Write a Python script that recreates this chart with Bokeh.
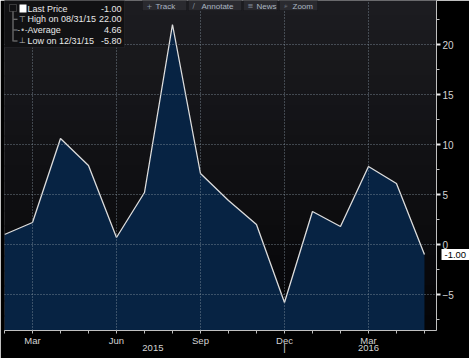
from bokeh.plotting import figure
from bokeh.models import Range1d, FixedTicker, Label, BoxAnnotation, LinearAxis
from bokeh.embed import file_html
from bokeh.resources import INLINE

# ---- data (monthly, Feb 2015 .. May 2016) ----
MONTHS = ["Feb 15", "Mar 15", "Apr 15", "May 15", "Jun 15", "Jul 15", "Aug 15", "Sep 15",
          "Oct 15", "Nov 15", "Dec 15", "Jan 16", "Feb 16", "Mar 16", "Apr 16", "May 16"]
MONTH_INDEX = list(range(len(MONTHS)))
PRICES = [1.0, 2.2, 10.6, 7.9, 0.7, 5.2, 22.0, 7.1, 4.4, 2.0, -5.8, 3.3, 1.8, 7.8, 6.1, -1.0]

X_TICKS = [1, 4, 5.3, 7, 10, 13]
X_TICK_LABELS = ["Mar", "Jun", "\n2015", "Sep", "Dec\n|", "Mar\n2016"]
Y_TICKS = [-5, 0, 5, 10, 15, 20]
Y_MINOR = [-7.5, -2.5, 2.5, 7.5, 12.5, 17.5, 22.5]
GRID_X = [1, 4, 7, 10, 13]

LEGEND_NAMES = ["Last Price", "High on 08/31/15", "Average", "Low on 12/31/15"]
LEGEND_VALUES = ["-1.00", "22.00", "4.66", "-5.80"]
LAST_PRICE_TEXT = "-1.00"
TOOL_BUTTONS = ["Track", "Annotate", "News", "Zoom"]
TOOL_ICONS = ["+", "\u2215", "\u2261", "\u2315"]

X_START, X_END = 0.0, 15.43
Y_START, Y_END = -8.6, 24.4

FONT = "Liberation Sans"
TXT = "#d4d4d4"

p = figure(width=469, height=358, x_range=Range1d(X_START, X_END), y_range=Range1d(Y_START, Y_END),
           output_backend="svg", toolbar_location=None, y_axis_location="right",
           min_border_left=4, min_border_top=0, min_border_right=32, min_border_bottom=28)
p.background_fill_color = "#0d0d10"
p.border_fill_color = "#000000"
p.outline_line_color = None

FRAME_H = 330
N_BANDS = 22
top_c = (0x1c, 0x1c, 0x20)
bot_c = (0x05, 0x05, 0x07)


def sbox(l, r, t, b, **kw):
    return BoxAnnotation(left=l, right=r, top=t, bottom=b,
                         left_units="screen", right_units="screen",
                         top_units="screen", bottom_units="screen", **kw)


for i in range(N_BANDS):
    t = i / (N_BANDS - 1)
    c = tuple(int(round(top_c[k] + (bot_c[k] - top_c[k]) * t)) for k in range(3))
    y_top = FRAME_H - i * FRAME_H / N_BANDS
    y_bot = FRAME_H - (i + 1) * FRAME_H / N_BANDS - 1
    p.add_layout(sbox(-5, 450, y_top, y_bot, fill_color="#%02x%02x%02x" % c, fill_alpha=1.0,
                      line_color=None, level="underlay"))

# area + line
p.varea(x=MONTH_INDEX, y1=Y_START, y2=PRICES, fill_color="#072343")
p.line(MONTH_INDEX, PRICES, line_color="#dcdcdc", line_width=1.3)

# x axis (months + years as second line)
xa = p.xaxis[0]
xa.ticker = FixedTicker(ticks=X_TICKS, minor_ticks=MONTH_INDEX)
xa.major_label_overrides = {t: l for t, l in zip(X_TICKS, X_TICK_LABELS)}
xa.axis_line_color = "#c0c0c0"
xa.major_tick_line_color = None
xa.minor_tick_line_color = "#c0c0c0"
xa.major_tick_out = 3
xa.major_tick_in = 0
xa.minor_tick_out = 3
xa.minor_tick_in = 0
xa.major_label_text_color = TXT
xa.major_label_text_font = FONT
xa.major_label_text_font_size = "9.5px"
xa.major_label_text_line_height = 0.7
xa.major_label_standoff = 1

# y axis (right)
ya = p.yaxis[0]
ya.ticker = FixedTicker(ticks=Y_TICKS, minor_ticks=Y_MINOR)
ya.axis_line_color = "#c0c0c0"
ya.major_tick_line_color = "#e8e8e8"
ya.minor_tick_line_color = "#c0c0c0"
ya.major_tick_out = 4
ya.major_tick_in = 0
ya.major_tick_line_width = 2
ya.minor_tick_out = 3
ya.minor_tick_in = 0
ya.major_label_text_color = TXT
ya.major_label_text_font = FONT
ya.major_label_text_font_size = "10px"
ya.major_label_standoff = 2

# last-price tag: second right axis; its wide white tick forms the tag box,
# and a negative standoff pulls its label back next to the first axis
tag = LinearAxis(ticker=FixedTicker(ticks=[PRICES[-1]], minor_ticks=[]),
                 major_label_overrides={PRICES[-1]: LAST_PRICE_TEXT})
tag.axis_line_color = None
tag.minor_tick_line_color = None
tag.major_tick_line_color = "#ffffff"
tag.major_tick_line_width = 11
tag.major_tick_line_cap = "butt"
tag.major_tick_in = 15
tag.major_tick_out = 14
tag.major_label_standoff = -26
tag.major_label_text_font = FONT
tag.major_label_text_font_size = "9.5px"
tag.major_label_text_color = "#000000"
p.add_layout(tag, "right")

# grids
for g, ticks in ((p.xgrid[0], GRID_X), (p.ygrid[0], Y_TICKS)):
    g.ticker = FixedTicker(ticks=ticks)
    g.grid_line_color = "#8896a4"
    g.grid_line_alpha = 0.8
    g.grid_line_dash = "1 2"
    g.level = "guide"

# legend box (top-left)
p.add_layout(sbox(-4, 120, FRAME_H, FRAME_H - 47, fill_color="#111113", fill_alpha=1.0,
                  line_color="#3a3a3e", line_width=1, level="overlay"))
p.add_layout(sbox(8, 9, FRAME_H - 10, FRAME_H - 41, fill_color="#8a8a8a", fill_alpha=1.0,
                  line_color=None, level="overlay"))
p.add_layout(sbox(5, 12, FRAME_H - 4, FRAME_H - 11, fill_color="#111113", fill_alpha=1.0,
                  line_color="#9a9a9a", line_width=1, level="overlay"))
p.add_layout(sbox(15, 22, FRAME_H - 4, FRAME_H - 12, fill_color="#ffffff", fill_alpha=1.0,
                  line_color=None, level="overlay"))
ROW_ICONS = ["", "\u22a4", "-\u2022-", "\u22a5"]
for i, (name, val) in enumerate(zip(LEGEND_NAMES, LEGEND_VALUES)):
    yc = FRAME_H - 8 - i * 10.8
    p.add_layout(Label(x=23, y=yc, x_units="screen", y_units="screen", text=name,
                       text_color="#e8e8e8", text_font=FONT, text_font_size="9px",
                       text_baseline="middle", text_align="left", level="overlay"))
    p.add_layout(Label(x=117, y=yc, x_units="screen", y_units="screen", text=val,
                       text_color="#e8e8e8", text_font=FONT, text_font_size="9px",
                       text_baseline="middle", text_align="right", level="overlay"))
    if ROW_ICONS[i]:
        p.add_layout(Label(x=18, y=yc, x_units="screen", y_units="screen", text=ROW_ICONS[i],
                           text_color="#bdbdbd", text_font="DejaVu Sans", text_font_size="8px",
                           text_baseline="middle", text_align="center", level="overlay"))
        p.add_layout(sbox(9, 13, yc + 0.5, yc - 0.5, fill_color="#8a8a8a", fill_alpha=1.0,
                          line_color=None, level="overlay"))

# toolbar buttons at top
BTN_LEFT = [138, 184, 239, 275]
BTN_RIGHT = [182, 237, 273, 313]
for name, icon, l, r in zip(TOOL_BUTTONS, TOOL_ICONS, BTN_LEFT, BTN_RIGHT):
    p.add_layout(sbox(l, r, FRAME_H + 2, FRAME_H - 10, fill_color="#2a2a2f", fill_alpha=1.0,
                      line_color="#111114", line_width=1, level="overlay"))
    p.add_layout(Label(x=l + 4, y=FRAME_H - 5.5, x_units="screen", y_units="screen", text=icon,
                       text_color="#8a96a2", text_font="DejaVu Sans", text_font_size="7px",
                       text_baseline="middle", text_align="left", level="overlay"))
    p.add_layout(Label(x=l + 13, y=FRAME_H - 5.5, x_units="screen", y_units="screen", text=name,
                       text_color="#aab6c2", text_font=FONT, text_font_size="8px",
                       text_baseline="middle", text_align="left", level="overlay"))

open("out.html", "w").write(file_html(p, INLINE))
